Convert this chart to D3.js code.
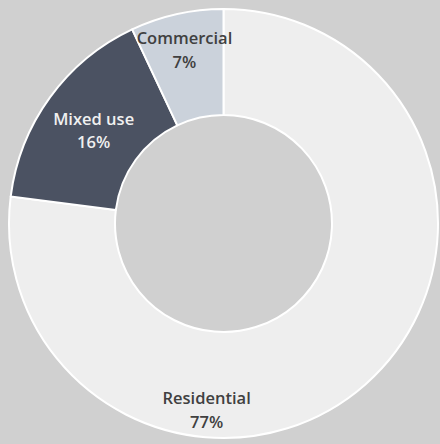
<!DOCTYPE html>
<html>
<head>
<meta charset="utf-8">
<script src="https://cdn.jsdelivr.net/npm/d3@7"></script>
<style>
    html, body { margin: 0; padding: 0; background: #d0d0d0; }
    svg { display: block; }
    .label { font-family: "Open Sans", sans-serif; font-weight: 600; font-size: 16.5px; }
</style>
</head>
<body>
<div id="chart"></div>
<script>
// land use share, clockwise from 12 o'clock
var categories = ["Residential", "Mixed use", "Commercial"];
var shares = [77, 16, 7];

var width = 440, height = 444;
var cx = 223.5, cy = 223.5;
var outerRadius = 214.5, innerRadius = 108.5;

var color = d3.scaleOrdinal()
    .domain(categories)
    .range(["#eeeeee", "#4b5262", "#cbd2db"]);

var textColor = d3.scaleOrdinal()
    .domain(categories)
    .range(["#404040", "#f0f0f0", "#404040"]);

// where each label sits: angle (deg clockwise from top) and radius
// the big slice keeps its label down at the bottom, not at the centroid
var labelPlace = {
    "Residential": { angle: 185.2, r: 186 },
    "Mixed use": { angle: null, r: 160.5 },
    "Commercial": { angle: null, r: 179 }
};

var data = categories.map((c, i) => ({ name: c, value: shares[i] }));

var pie = d3.pie()
    .sort(null)
    .value(d => d.value);

var arc = d3.arc()
    .innerRadius(innerRadius)
    .outerRadius(outerRadius);

var svg = d3.select("#chart")
    .append("svg")
    .attr("width", width)
    .attr("height", height);

var g = svg.append("g")
    .attr("transform", "translate(" + cx + "," + cy + ")");

var arcs = pie(data);

g.selectAll(".slice")
    .data(arcs)
    .enter().append("path")
    .attr("class", "slice")
    .attr("d", arc)
    .attr("fill", d => color(d.data.name))
    .attr("stroke", "#ffffff")
    .attr("stroke-width", 2)
    .attr("stroke-linejoin", "round");

var total = d3.sum(shares);

var labels = g.selectAll(".label")
    .data(arcs)
    .enter().append("text")
    .attr("class", "label")
    .attr("text-anchor", "middle")
    .attr("fill", d => textColor(d.data.name))
    .attr("transform", function (d) {
        var p = labelPlace[d.data.name];
        var a = p.angle === null ? (d.startAngle + d.endAngle) / 2 : p.angle * Math.PI / 180;
        return "translate(" + (p.r * Math.sin(a)) + "," + (-p.r * Math.cos(a)) + ")";
    });

labels.append("tspan")
    .attr("x", 0)
    .attr("dy", "-0.28em")
    .text(d => d.data.name);

labels.append("tspan")
    .attr("x", 0)
    .attr("dy", "1.45em")
    .text(d => Math.round(d.data.value / total * 100) + "%");
</script>
</body>
</html>
